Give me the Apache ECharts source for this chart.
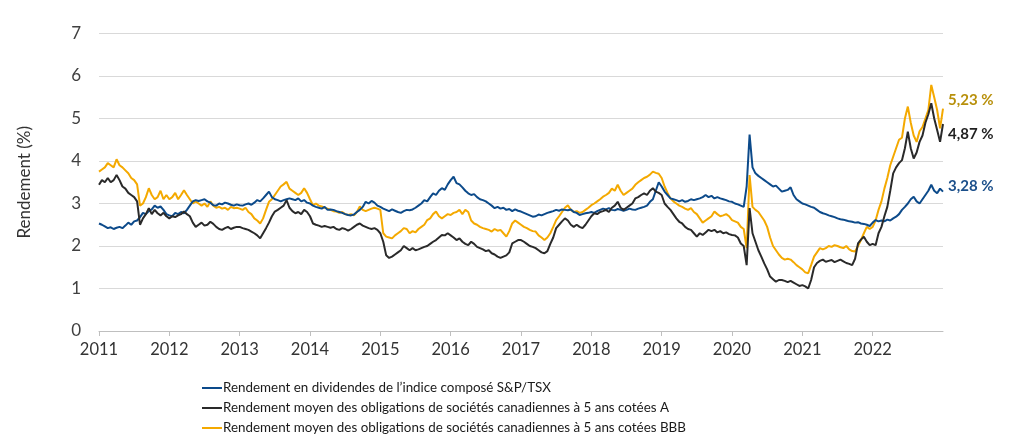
<!DOCTYPE html>
<html><head><meta charset="utf-8">
<script src="https://cdn.jsdelivr.net/npm/echarts@6/dist/echarts.min.js"></script>
<style>html,body{margin:0;padding:0;background:#fff}#c{width:1024px;height:439px}</style>
</head><body><div id="c"></div>
<script>
// Semi-monthly observations (24 per year) from Jan 2011, last value = end of 2022
const startYear = 2011;
const stepsPerYear = 24;
const yearTicks = [2011, 2012, 2013, 2014, 2015, 2016, 2017, 2018, 2019, 2020, 2021, 2022];
const seriesNames = [
  "Rendement en dividendes de l\u2019indice composé S&P/TSX",
  "Rendement moyen des obligations de sociétés canadiennes à 5 ans cotées A",
  "Rendement moyen des obligations de sociétés canadiennes à 5 ans cotées BBB"
];
const tsxYield = [
  2.53,2.50,2.46,2.42,2.44,2.40,2.43,2.45,2.42,2.48,2.55,2.50,2.58,2.60,2.68,2.78,2.75,2.82,2.86,2.95,2.90,2.93,2.85,2.75,
  2.72,2.70,2.78,2.75,2.80,2.77,2.85,2.95,3.05,3.08,3.06,3.08,3.10,3.05,3.02,2.96,2.95,3.00,2.98,3.02,3.00,2.97,2.95,2.98,
  2.96,2.95,2.98,3.00,2.97,3.02,3.08,3.05,3.12,3.20,3.28,3.15,3.10,3.08,3.05,3.08,3.10,3.12,3.10,3.08,3.12,3.05,3.08,3.02,
  3.00,2.95,2.92,2.90,2.88,2.92,2.85,2.86,2.85,2.82,2.80,2.78,2.75,2.73,2.72,2.74,2.80,2.85,2.92,3.04,3.00,3.06,3.02,2.95,
  2.92,2.88,2.85,2.82,2.86,2.83,2.80,2.78,2.82,2.85,2.84,2.86,2.90,2.95,3.00,3.08,3.05,3.15,3.24,3.20,3.30,3.36,3.32,3.45,
  3.55,3.63,3.48,3.45,3.38,3.30,3.24,3.20,3.22,3.15,3.10,3.08,3.05,3.00,2.95,2.89,2.92,2.88,2.90,2.85,2.87,2.82,2.86,2.83,
  2.81,2.78,2.75,2.72,2.69,2.70,2.74,2.72,2.75,2.78,2.80,2.82,2.85,2.83,2.86,2.85,2.84,2.86,2.80,2.78,2.73,2.75,2.77,2.78,
  2.80,2.78,2.82,2.85,2.88,2.86,2.89,2.85,2.84,2.87,2.85,2.83,2.85,2.88,2.86,2.85,2.88,2.90,2.92,2.95,3.04,3.10,3.30,3.50,
  3.40,3.28,3.20,3.12,3.10,3.08,3.05,3.08,3.04,3.06,3.10,3.08,3.10,3.12,3.15,3.20,3.15,3.18,3.12,3.15,3.12,3.10,3.08,3.05,
  3.04,3.00,2.98,2.95,2.92,3.40,4.62,3.85,3.71,3.65,3.60,3.55,3.50,3.45,3.40,3.42,3.35,3.28,3.30,3.32,3.38,3.20,3.10,3.05,
  3.00,2.98,2.95,2.92,2.90,2.85,2.80,2.77,2.75,2.72,2.70,2.68,2.65,2.63,2.62,2.60,2.58,2.57,2.55,2.56,2.53,2.52,2.50,2.47,
  2.55,2.61,2.58,2.60,2.58,2.62,2.60,2.65,2.69,2.75,2.85,2.92,3.00,3.10,3.16,3.05,3.00,3.10,3.20,3.30,3.44,3.30,3.24,3.35,
  3.28
];
const corpA = [
  3.44,3.55,3.50,3.60,3.50,3.55,3.67,3.55,3.40,3.35,3.25,3.20,3.15,3.05,2.50,2.65,2.75,2.89,2.75,2.85,2.77,2.72,2.78,2.70,
  2.65,2.70,2.68,2.72,2.75,2.81,2.75,2.70,2.55,2.45,2.50,2.55,2.48,2.50,2.57,2.52,2.45,2.40,2.38,2.42,2.45,2.40,2.43,2.45,
  2.45,2.42,2.40,2.38,2.34,2.30,2.25,2.18,2.30,2.42,2.55,2.70,2.81,2.85,2.90,2.95,3.08,2.90,2.82,2.77,2.80,2.75,2.85,2.80,
  2.70,2.53,2.50,2.48,2.45,2.47,2.45,2.43,2.45,2.40,2.38,2.42,2.40,2.36,2.40,2.45,2.50,2.53,2.48,2.45,2.42,2.40,2.42,2.38,
  2.30,2.10,1.78,1.72,1.75,1.80,1.85,1.90,2.00,1.95,1.90,1.95,1.90,1.92,1.95,1.98,2.00,2.05,2.10,2.14,2.20,2.26,2.25,2.30,
  2.25,2.20,2.14,2.18,2.10,2.05,2.02,2.10,2.05,1.98,1.95,1.92,1.88,1.90,1.83,1.80,1.75,1.72,1.75,1.78,1.85,2.06,2.10,2.14,
  2.14,2.10,2.05,2.00,1.98,1.95,1.90,1.85,1.83,1.88,2.05,2.20,2.42,2.50,2.58,2.65,2.60,2.50,2.45,2.50,2.45,2.42,2.50,2.60,
  2.70,2.77,2.75,2.80,2.82,2.85,2.80,2.90,2.95,3.04,2.90,2.85,2.90,2.95,3.00,3.12,3.15,3.20,3.24,3.20,3.30,3.36,3.28,3.25,
  3.20,3.00,2.92,2.85,2.75,2.65,2.57,2.53,2.45,2.40,2.38,2.30,2.22,2.30,2.26,2.32,2.38,2.35,2.38,2.32,2.35,2.30,2.32,2.28,
  2.26,2.25,2.20,2.06,2.00,1.55,2.89,2.30,2.10,1.90,1.75,1.59,1.45,1.28,1.22,1.16,1.20,1.20,1.18,1.15,1.18,1.14,1.10,1.06,
  1.08,1.05,1.00,1.20,1.50,1.60,1.65,1.68,1.63,1.65,1.67,1.62,1.65,1.68,1.64,1.60,1.58,1.55,1.70,2.06,2.15,2.22,2.10,2.02,
  2.05,2.02,2.30,2.45,2.70,2.92,3.30,3.71,3.85,3.95,4.02,4.30,4.69,4.30,4.06,4.20,4.45,4.60,4.90,5.10,5.36,5.00,4.73,4.45,
  4.87
];
const corpBBB = [
  3.75,3.80,3.85,3.95,3.90,3.85,4.04,3.90,3.85,3.78,3.71,3.60,3.55,3.45,2.95,3.00,3.15,3.36,3.20,3.10,3.15,3.30,3.10,3.20,
  3.10,3.15,3.25,3.10,3.20,3.31,3.20,3.10,3.00,3.05,3.00,2.95,3.00,2.92,3.05,2.95,2.90,2.92,2.88,2.90,2.85,2.92,2.89,2.90,
  2.88,2.85,2.90,2.80,2.75,2.65,2.60,2.53,2.65,2.85,3.04,3.10,3.20,3.30,3.40,3.45,3.51,3.35,3.30,3.25,3.20,3.25,3.36,3.25,
  3.10,2.96,3.00,2.95,2.93,2.90,2.88,2.85,2.82,2.81,2.78,2.80,2.75,2.73,2.75,2.72,2.80,2.93,2.85,2.82,2.85,2.88,2.90,2.88,
  2.85,2.30,2.22,2.20,2.18,2.25,2.30,2.35,2.42,2.40,2.30,2.35,2.32,2.40,2.45,2.50,2.61,2.65,2.75,2.81,2.70,2.65,2.70,2.75,
  2.73,2.78,2.80,2.85,2.75,2.85,2.80,2.60,2.53,2.50,2.45,2.42,2.40,2.38,2.34,2.40,2.36,2.38,2.30,2.22,2.35,2.53,2.60,2.55,
  2.50,2.45,2.42,2.38,2.35,2.34,2.25,2.20,2.14,2.20,2.30,2.45,2.61,2.70,2.80,2.90,2.96,2.85,2.80,2.82,2.78,2.80,2.85,2.90,
  2.96,3.00,3.05,3.10,3.16,3.20,3.25,3.35,3.30,3.44,3.30,3.20,3.25,3.30,3.35,3.44,3.50,3.55,3.60,3.63,3.68,3.75,3.72,3.70,
  3.60,3.40,3.25,3.12,3.05,3.00,2.95,2.92,2.88,2.85,2.89,2.80,2.75,2.65,2.55,2.60,2.65,2.70,2.81,2.75,2.70,2.72,2.75,2.70,
  2.61,2.58,2.55,2.45,2.40,1.95,3.67,2.92,2.85,2.80,2.70,2.60,2.45,2.20,2.00,1.90,1.80,1.72,1.68,1.70,1.68,1.62,1.55,1.50,
  1.45,1.38,1.36,1.55,1.75,1.85,1.95,1.92,1.95,2.00,1.98,2.02,2.00,1.97,1.95,2.00,1.92,1.88,1.87,2.00,2.14,2.30,2.45,2.40,
  2.45,2.60,2.85,3.05,3.35,3.60,3.90,4.10,4.30,4.50,4.55,5.00,5.28,4.90,4.60,4.45,4.70,4.80,5.00,5.20,5.79,5.50,5.20,4.77,
  5.23
];

const FONT = 'Lato';
const dates = tsxYield.map((_, k) => startYear + k / stepsPerYear);
const pairs = arr => arr.map((v, i) => [dates[i], v]);
const fmt = v => v.toFixed(2).replace('.', ',') + ' %';

const colors = ['#0c4a8a', '#2a2a2a', '#f4a900'];
const labelColors = ['#1b4f8a', '#1f1f1f', '#b8900b'];
const labelOffsets = [[0, -5], [0, 10], [0, -9]];
const allData = [tsxYield, corpA, corpBBB];

const chart = echarts.init(document.getElementById('c'), null, {renderer: 'canvas'});
chart.setOption({
  animation: false,
  textStyle: {fontFamily: FONT},
  grid: {left: 99, right: 81, top: 33.5, bottom: 108},
  legend: {
    orient: 'vertical', left: 202, top: 378, itemGap: 0, padding: 0,
    width: 700, height: 61,
    itemWidth: 20, itemHeight: 2, icon: 'rect',
    textStyle: {fontFamily: FONT, fontSize: 13.4, color: '#1a1a1a', lineHeight: 20, padding: [0, 0, 0, -4]},
    data: seriesNames
  },
  xAxis: {
    type: 'value', min: yearTicks[0], max: yearTicks[yearTicks.length - 1] + 1, interval: 1,
    axisLine: {lineStyle: {color: '#bfbfbf', width: 1}},
    axisTick: {show: true, length: 5, lineStyle: {color: '#bfbfbf'}},
    axisLabel: {fontFamily: FONT, fontSize: 16.5, color: '#333', margin: 10, showMaxLabel: false,
      formatter: v => yearTicks.includes(v) ? String(v) : ''},
    splitLine: {show: false}
  },
  yAxis: {
    type: 'value', min: 0, max: 7, interval: 1,
    name: 'Rendement (%)', nameLocation: 'middle', nameGap: 66,
    nameTextStyle: {fontFamily: FONT, fontSize: 17, color: '#333'},
    axisLine: {show: false}, axisTick: {show: false},
    axisLabel: {fontFamily: FONT, fontSize: 17, color: '#404040', margin: 18},
    splitLine: {lineStyle: {color: '#d9d9d9', width: 1}}
  },
  series: allData.map((arr, i) => ({
    name: seriesNames[i], type: 'line', showSymbol: false, symbol: 'none',
    data: pairs(arr),
    lineStyle: {color: colors[i], width: 2},
    itemStyle: {color: colors[i]},
    z: i === 0 ? 3 : (i === 1 ? 4 : 2),
    endLabel: {
      show: true, distance: 5, offset: labelOffsets[i],
      formatter: () => fmt(arr[arr.length - 1]),
      fontFamily: FONT, fontSize: 15, fontWeight: 'bold', color: labelColors[i]
    }
  }))
});
</script>
</body></html>
